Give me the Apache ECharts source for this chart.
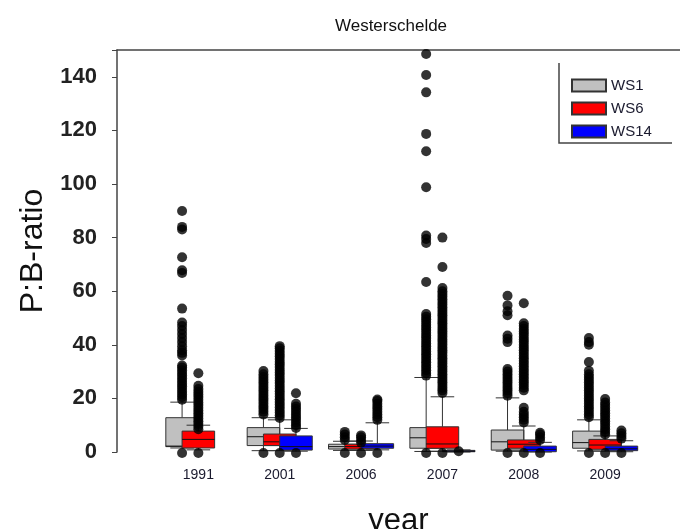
<!DOCTYPE html>
<html>
<head>
<meta charset="utf-8">
<script src="https://cdn.jsdelivr.net/npm/echarts@6/dist/echarts.min.js"></script>
<style>
  html, body { margin: 0; padding: 0; background: #fff; }
  #chart { width: 680px; height: 529px; }
</style>
</head>
<body>
<div id="chart"></div>
<script>
const years = ['1991', '2001', '2006', '2007', '2008', '2009'];
const yTicks = [0, 20, 40, 60, 80, 100, 120, 140];

// [lower whisker, Q1, median, Q3, upper whisker] per year
const ws1Stats = [
  [1.5, 2.0, 2.2, 12.8, 18.6],
  [0.5, 2.4, 5.7, 9.1, 12.8],
  [0.6, 1.1, 2.0, 2.9, 4.0],
  [0.2, 1.4, 5.3, 9.1, 27.8],
  [0.3, 0.7, 3.8, 8.2, 20.2],
  [0.4, 1.4, 3.5, 7.8, 12.0]
];
const ws6Stats = [
  [0.8, 1.5, 4.7, 7.8, 10.0],
  [0.5, 2.4, 3.8, 6.7, 12.0],
  [0.6, 1.1, 2.0, 2.9, 4.1],
  [0.3, 1.4, 3.0, 9.4, 20.6],
  [0.3, 1.4, 2.9, 4.5, 9.7],
  [0.3, 1.0, 2.6, 4.7, 6.0]
];
const ws14Stats = [
  null,
  [0.3, 0.7, 2.0, 6.0, 8.8],
  [0.8, 1.4, 2.2, 3.1, 10.9],
  [0.0, 0.1, 0.3, 0.6, 0.8],
  [0.0, 0.1, 1.0, 2.2, 3.6],
  [0.1, 0.5, 1.2, 2.2, 4.2]
];

// outliers per year
const ws1Outliers = [
  [-0.4, 19.5, 20.5, 21.5, 22.5, 23.5, 24.5, 25.5, 26.5, 27.5, 28.5, 29.5, 30.5, 31.5, 32.3,
   36, 37, 38, 39.5, 41, 42.5, 44, 45.5, 47, 48.3, 53.5, 66.8, 67.8, 72.7, 83, 84, 89.9],
  [-0.4, 14, 15, 16, 17, 18, 19, 20, 21, 22, 23, 24, 25, 26, 27, 28, 29, 30.2],
  [-0.4, 4.5, 5.5, 6.5, 7.5],
  [-0.4, 28.5, 29.5, 30.5, 31.5, 32.5, 33.5, 34.5, 35.5, 36.5, 37.5, 38.5, 39.5, 40.5, 41.5,
   42.5, 43.5, 44.5, 45.5, 46.5, 47.5, 48.5, 49.5, 50.5, 51.5, 63.4, 78, 79.5, 80.8, 98.8,
   112.2, 118.7, 134.2, 140.7, 148.5],
  [-0.4, 21, 22, 23, 24, 25, 26, 27, 28, 29, 30, 31, 41, 42.3, 43.5, 51, 52.5, 54.7, 58.3],
  [-0.4, 13, 14, 15, 16, 17, 18, 19, 20, 21, 22, 23, 24, 25, 26, 27, 28, 29, 30.3, 33.6, 40, 41, 42.5]
];
const ws6Outliers = [
  [-0.4, 8.5, 9.5, 10.5, 11.5, 12.5, 13.5, 14.5, 15.5, 16.5, 17.5, 18.5, 19.5, 20.5, 21.5,
   22.5, 23.5, 24.7, 29.4],
  [-0.4, 12.7, 13.7, 14.7, 15.7, 16.7, 17.7, 18.7, 19.7, 20.7, 21.7, 22.7, 23.7, 24.7, 25.7,
   26.7, 27.7, 28.7, 29.7, 30.7, 31.7, 32.7, 33.7, 34.7, 35.7, 36.7, 37.7, 38.7, 39.5],
  [-0.4, 3.5, 4.5, 5.5, 6.2],
  [-0.4, 22, 23, 24, 25, 26, 27, 28, 29, 30, 31, 32, 33, 34, 35, 36, 37, 38, 39, 40, 41, 42,
   43, 44, 45, 46, 47, 48, 49, 50, 51, 52, 53, 54, 55, 56, 57, 58, 59, 60, 61.2, 69, 80],
  [-0.4, 11, 12, 13, 14, 15, 16.5, 23, 24, 25, 26, 27, 28, 29, 30, 31, 32, 33, 34, 35, 36,
   37, 38, 39, 40, 41, 42, 43, 44, 45, 46, 47, 48, 55.5],
  [-0.4, 6.5, 7.5, 8.5, 9.5, 10.5, 11.5, 12.5, 13.5, 14.5, 15.5, 16.5, 17.5, 18.5, 19.8]
];
const ws14Outliers = [
  [],
  [-0.4, 9, 10, 11, 12, 13, 14, 15, 16, 17, 18, 21.9],
  [-0.4, 12, 13, 14, 15, 16, 17, 18, 19, 19.6],
  [0.3],
  [-0.4, 4.5, 5.5, 6.5, 7.2],
  [-0.4, 5, 6, 7, 8]
];

const BOX_W = 0.4;
const CAP_W = 0.29;

function boxData(stats) {
  const out = [];
  stats.forEach(function (s, i) {
    if (s) out.push([i + 1].concat(s));
  });
  return out;
}

function outlierData(list, offset) {
  const out = [];
  list.forEach(function (vals, i) {
    vals.forEach(function (v) { out.push([i + 1 + offset, v]); });
  });
  return out;
}

function makeBox(offset, fill) {
  return function (params, api) {
    const x = api.value(0) + offset;
    const c = api.coord([x, 0])[0];
    const halfW = api.size([BOX_W, 0])[0] / 2;
    const capW = api.size([CAP_W, 0])[0] / 2;
    const yLo = api.coord([x, api.value(1)])[1];
    const yQ1 = api.coord([x, api.value(2)])[1];
    const yMed = api.coord([x, api.value(3)])[1];
    const yQ3 = api.coord([x, api.value(4)])[1];
    const yHi = api.coord([x, api.value(5)])[1];
    const line = { stroke: '#333', lineWidth: 1 };
    return {
      type: 'group',
      children: [
        { type: 'line', shape: { x1: c, y1: yQ3, x2: c, y2: yHi }, style: line },
        { type: 'line', shape: { x1: c - capW, y1: yHi, x2: c + capW, y2: yHi }, style: line },
        { type: 'line', shape: { x1: c, y1: yQ1, x2: c, y2: yLo }, style: line },
        { type: 'line', shape: { x1: c - capW, y1: yLo, x2: c + capW, y2: yLo }, style: line },
        {
          type: 'rect',
          shape: { x: c - halfW, y: yQ3, width: halfW * 2, height: Math.max(yQ1 - yQ3, 1) },
          style: { fill: fill, stroke: '#333', lineWidth: 1 }
        },
        { type: 'line', shape: { x1: c - halfW, y1: yMed, x2: c + halfW, y2: yMed }, style: { stroke: '#111', lineWidth: 1 } }
      ]
    };
  };
}

const groups = [
  { name: 'WS1', color: '#c0c0c0', offset: -0.2, stats: ws1Stats, outliers: ws1Outliers },
  { name: 'WS6', color: '#ff0000', offset: 0, stats: ws6Stats, outliers: ws6Outliers },
  { name: 'WS14', color: '#0000ff', offset: 0.2, stats: ws14Stats, outliers: ws14Outliers }
];

const series = [];
groups.forEach(function (g) {
  series.push({
    name: g.name,
    type: 'custom',
    renderItem: makeBox(g.offset, g.color),
    itemStyle: { color: g.color, borderColor: '#333', borderWidth: 1 },
    encode: { x: 0, y: [1, 2, 3, 4, 5] },
    data: boxData(g.stats)
  });
  series.push({
    name: g.name + ' outliers',
    type: 'scatter',
    symbol: 'circle',
    symbolSize: 10,
    clip: false,
    itemStyle: { color: '#000' },
    data: outlierData(g.outliers, g.offset)
  });
});

const chart = echarts.init(document.getElementById('chart'));
chart.setOption({
  animation: false,
  backgroundColor: '#fff',
  textStyle: { fontFamily: 'Liberation Sans, Arial, sans-serif' },
  title: {
    text: 'Westerschelde',
    left: 386,
    top: 13,
    textAlign: 'center',
    textStyle: { fontSize: 17, fontWeight: 'normal', color: '#111' }
  },
  legend: {
    data: groups.map(function (g) { return { name: g.name, icon: 'rect' }; }),
    orient: 'vertical',
    left: 571,
    top: 78,
    itemWidth: 34,
    itemHeight: 12,
    itemGap: 8,
    padding: 0,
    selectedMode: false,
    textStyle: { fontSize: 15, color: '#1a1a2e', padding: [0, 0, 0, 0] }
  },
  graphic: [
    { type: 'polyline', shape: { points: [[559, 63], [559, 143], [672, 143]] }, style: { stroke: '#444', fill: null, lineWidth: 1.5 } }
  ],
  grid: { left: 117, right: 0, top: 50, bottom: 77, outerBoundsMode: 'none', containLabel: false },
  xAxis: [{
    type: 'value',
    min: 0,
    max: 6.92,
    interval: 1,
    axisLine: { show: false },
    axisTick: { show: false },
    splitLine: { show: false },
    axisLabel: {
      margin: 16,
      fontSize: 14,
      color: '#1a1a2e',
      formatter: function (v) { return years[v - 1] || ''; }
    },
    name: 'year',
    nameLocation: 'middle',
    nameGap: 54,
    nameTextStyle: { fontSize: 31, color: '#111' }
  }, {
    type: 'value',
    position: 'top',
    min: 0,
    max: 6.92,
    axisLine: { show: true, lineStyle: { color: '#444', width: 1.5 } },
    axisTick: { show: false },
    axisLabel: { show: false },
    splitLine: { show: false }
  }],
  yAxis: {
    type: 'value',
    min: yTicks[0],
    max: 150,
    interval: 20,
    axisLine: { show: true, lineStyle: { color: '#444', width: 1.5 } },
    axisTick: { show: true, length: 5, lineStyle: { color: '#444' } },
    splitLine: { show: false },
    axisLabel: {
      margin: 20,
      fontSize: 22,
      fontWeight: 'bold',
      color: '#222',
      formatter: function (v) { return yTicks.indexOf(v) >= 0 ? String(v) : ''; }
    },
    name: 'P:B-ratio',
    nameLocation: 'middle',
    nameGap: 68,
    nameTextStyle: { fontSize: 32, color: '#111' }
  },
  series: series
});
</script>
</body>
</html>
